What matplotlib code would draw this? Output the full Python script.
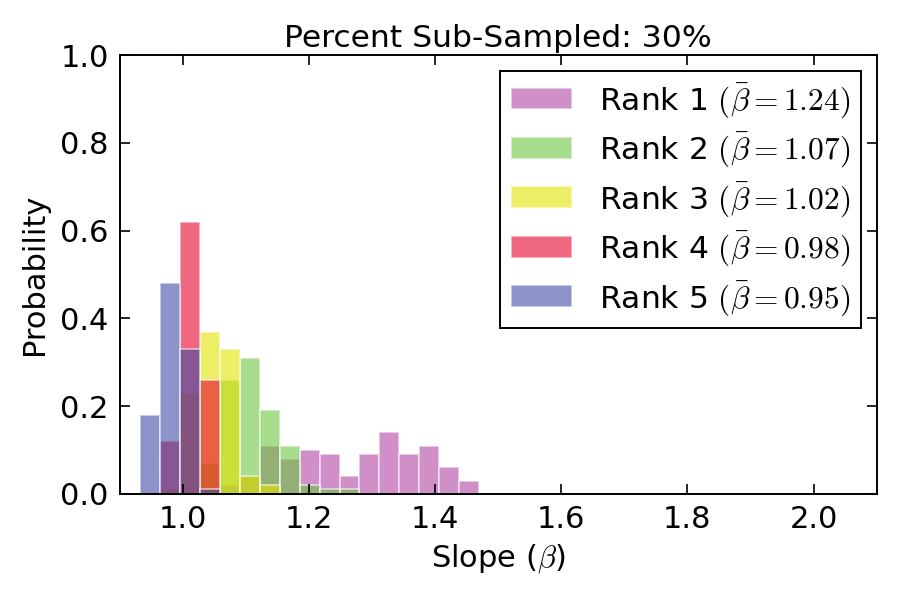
import numpy as np
import matplotlib
matplotlib.use("Agg")
import matplotlib.pyplot as plt

# ---- data ----
bin_start = 0.9325
bin_width = 0.0316
n_bins = 17

rank_labels = [
    r"Rank 1 $(\bar{\beta}=1.24)$",
    r"Rank 2 $(\bar{\beta}=1.07)$",
    r"Rank 3 $(\bar{\beta}=1.02)$",
    r"Rank 4 $(\bar{\beta}=0.98)$",
    r"Rank 5 $(\bar{\beta}=0.95)$",
]
#                 bin: 0     1     2     3     4     5     6     7     8     9     10    11    12    13    14    15    16
rank1_probs = [0.00, 0.00, 0.00, 0.00, 0.02, 0.04, 0.11, 0.08, 0.10, 0.09, 0.04, 0.09, 0.14, 0.09, 0.11, 0.06, 0.03]
rank2_probs = [0.00, 0.00, 0.00, 0.07, 0.26, 0.31, 0.19, 0.11, 0.02, 0.01, 0.01, 0.00, 0.00, 0.00, 0.00, 0.00, 0.00]
rank3_probs = [0.00, 0.01, 0.23, 0.37, 0.33, 0.04, 0.02, 0.00, 0.00, 0.00, 0.00, 0.00, 0.00, 0.00, 0.00, 0.00, 0.00]
rank4_probs = [0.00, 0.12, 0.62, 0.26, 0.00, 0.00, 0.00, 0.00, 0.00, 0.00, 0.00, 0.00, 0.00, 0.00, 0.00, 0.00, 0.00]
rank5_probs = [0.18, 0.48, 0.33, 0.01, 0.00, 0.00, 0.00, 0.00, 0.00, 0.00, 0.00, 0.00, 0.00, 0.00, 0.00, 0.00, 0.00]

colors = ["#B244A2", "#6BC53F", "#E3E300", "#E6032A", "#3F4BA5"]

title = "Percent Sub-Sampled: 30%"
xlabel = r"Slope ($\beta$)"
ylabel = "Probability"
xticks = [1.0, 1.2, 1.4, 1.6, 1.8, 2.0]
yticks = [0.0, 0.2, 0.4, 0.6, 0.8, 1.0]

# ---- style ----
plt.rcParams["font.family"] = ["DejaVu Sans"]
plt.rcParams["mathtext.fontset"] = "cm"
fs_big = 22.6
fs = 22

fig = plt.figure(figsize=(9, 6), dpi=100, facecolor="white")
ax = fig.add_axes([0.133, 0.177, 0.841, 0.731])

edges = bin_start + bin_width * np.arange(n_bins)
all_probs = [rank1_probs, rank2_probs, rank3_probs, rank4_probs, rank5_probs]
for probs, col, lab in zip(all_probs, colors, rank_labels):
    ax.bar(edges, probs, width=bin_width, align="edge", color=col, alpha=0.6,
           edgecolor="white", linewidth=1.2, label=lab)

ax.set_xlim(0.9, 2.1)
ax.set_ylim(0.0, 1.0)
ax.set_xticks(xticks)
ax.set_yticks(yticks)
ax.set_xticklabels([f"{t:.1f}" for t in xticks])
ax.set_yticklabels([f"{t:.1f}" for t in yticks])
ax.tick_params(direction="in", top=True, right=True, length=7, width=1.2,
               labelsize=fs, pad=8)
for s in ax.spines.values():
    s.set_linewidth(1.4)

ax.set_title(title, fontsize=fs_big, pad=6)
ax.set_xlabel(xlabel, fontsize=fs, labelpad=6)
ax.set_ylabel(ylabel, fontsize=fs, labelpad=8)

leg = ax.legend(loc="upper right", fontsize=fs_big, fancybox=False, framealpha=1,
                edgecolor="black", handlelength=1.95, handletextpad=0.87,
                labelspacing=0.35, borderpad=0.33, borderaxespad=0.5)
leg.get_frame().set_linewidth(1.4)

fig.savefig("out.png", dpi=100, facecolor="white")
